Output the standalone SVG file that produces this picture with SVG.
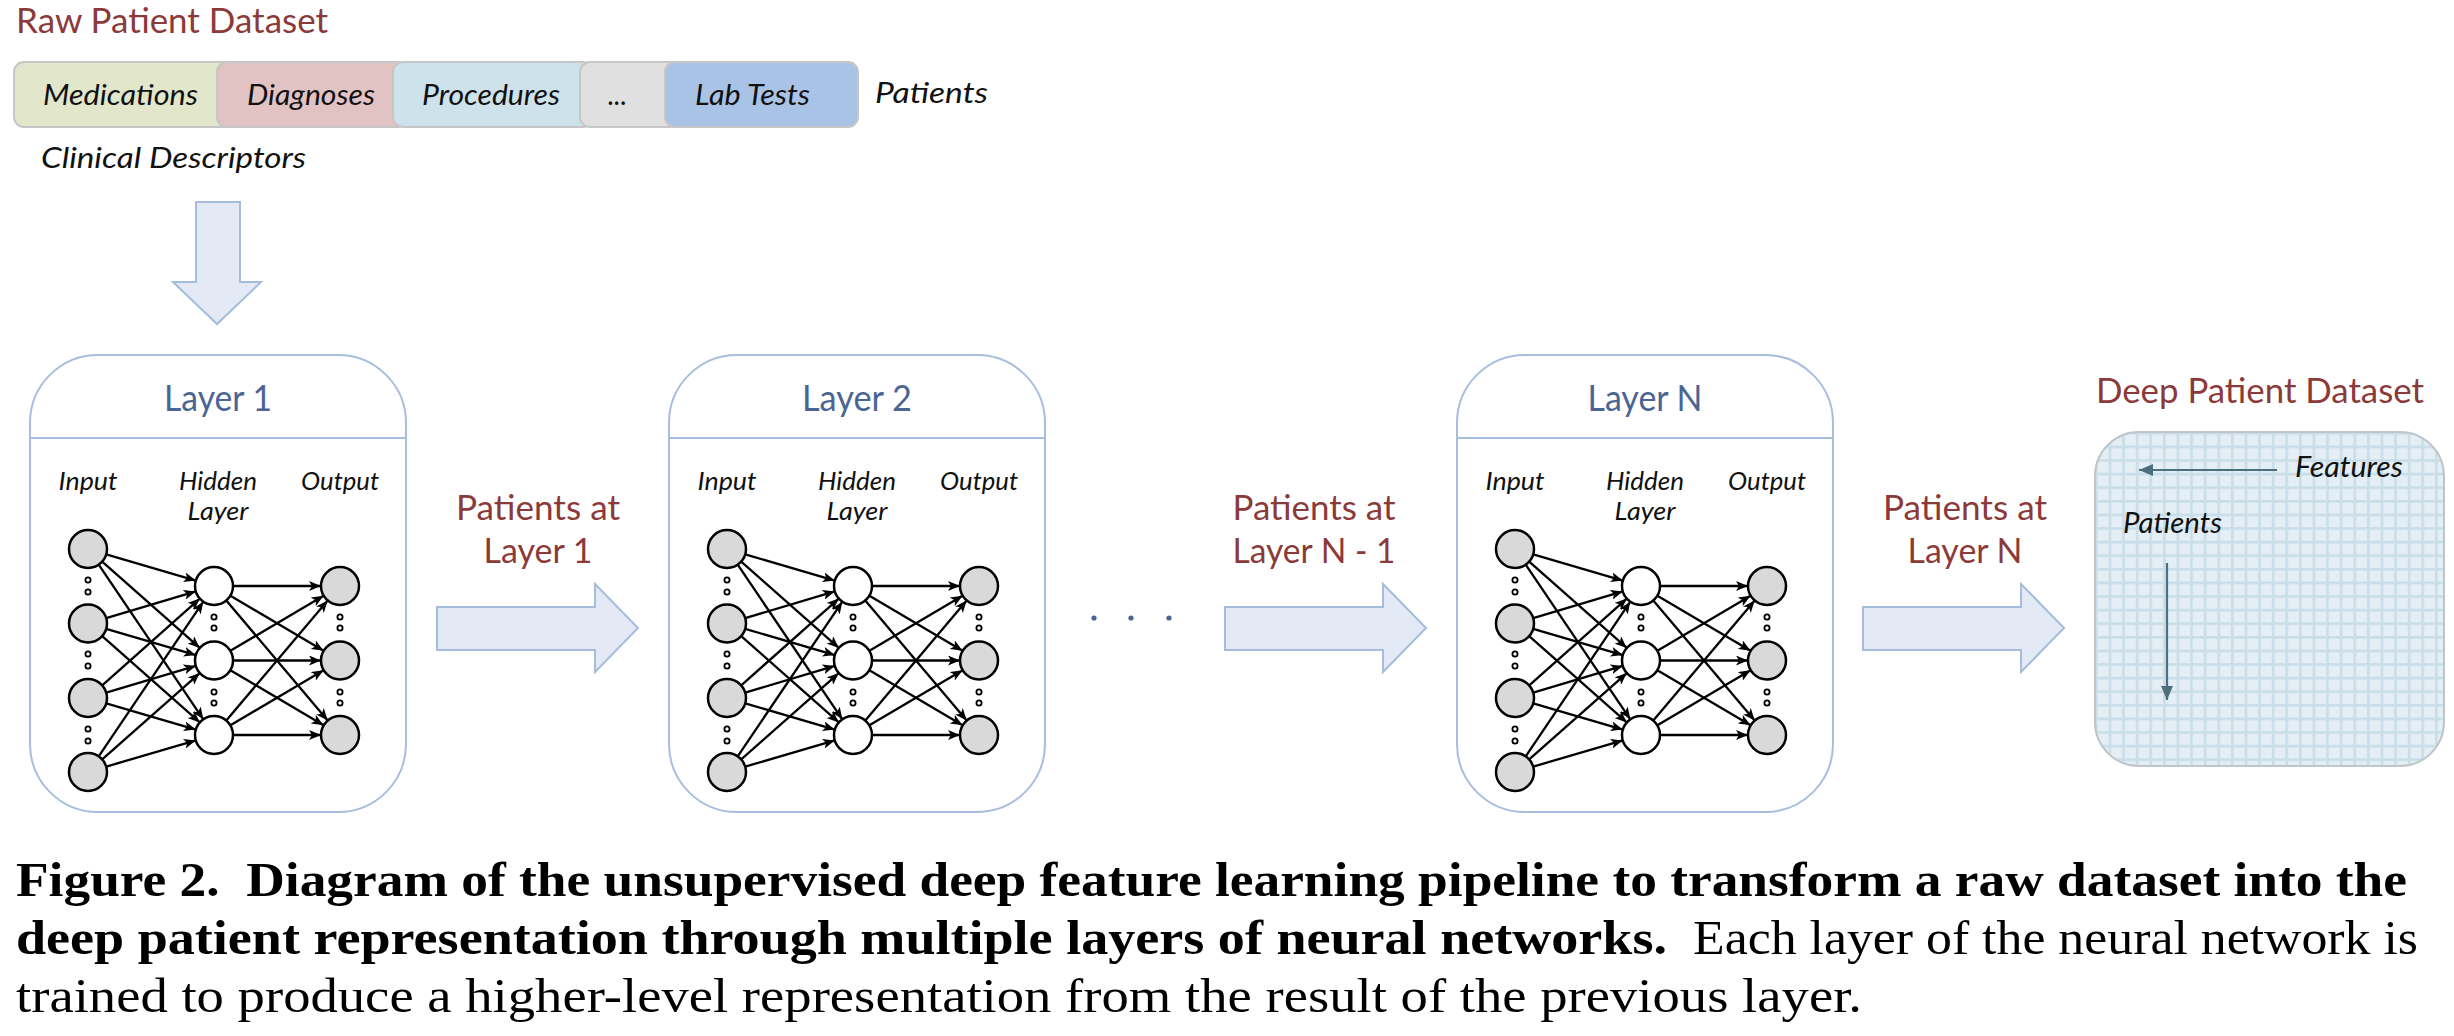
<svg xmlns="http://www.w3.org/2000/svg" width="2454" height="1036" viewBox="0 0 2454 1036">
<style>
.sans{font-family:Lato,"Liberation Sans",sans-serif}
.red{font-family:Lato,"Liberation Sans",sans-serif;fill:#8B3A3A;font-size:35px}
.ctr{text-anchor:middle}
.title{font-family:Lato,"Liberation Sans",sans-serif;fill:#4A6592;font-size:36px;text-anchor:middle}
.it{font-family:Lato,"Liberation Sans",sans-serif;font-style:italic;fill:#111;font-size:28px}
.lbl{font-family:Lato,"Liberation Sans",sans-serif;font-style:italic;fill:#111;font-size:26px;text-anchor:middle}
.box{fill:#fff;stroke:#A8BEDF;stroke-width:2}
.div{stroke:#A8BEDF;stroke-width:2}
.big{fill:#E3EAF5;stroke:#A5BCDD;stroke-width:2}
.e{stroke:#000;stroke-width:2.3;fill:none;marker-end:url(#ah)}
.ng{fill:#D9D9D9;stroke:#000;stroke-width:2.5}
.nw{fill:#fff;stroke:#000;stroke-width:2.5}
.d{fill:#fff;stroke:#000;stroke-width:1.8}
.seg{stroke:#C6C6C6;stroke-width:2}
.cap{font-family:"Liberation Serif",serif;font-size:48px;fill:#000;white-space:pre}
.ga{stroke:#4D6E7B;stroke-width:2.2;fill:none;marker-end:url(#gah)}
</style>
<defs>
<marker id="ah" markerUnits="userSpaceOnUse" markerWidth="13" markerHeight="10" refX="12" refY="5" orient="auto">
<path d="M0,0 L12,5 L0,10 L3,5 Z" fill="#000"/>
</marker>
<marker id="gah" markerUnits="userSpaceOnUse" markerWidth="15" markerHeight="12" refX="14" refY="6" orient="auto">
<path d="M0,0 L14,6 L0,12 Z" fill="#4D6E7B"/>
</marker>
<pattern id="grid" patternUnits="userSpaceOnUse" x="2095" y="432" width="13.6" height="13.6">
<rect width="13.6" height="13.6" fill="#C9DEE8"/>
<rect x="2.6" y="2.6" width="11" height="11" fill="#E4EEF5"/>
</pattern>
<g id="net">
<line class="e" x1="76.2" y1="554.4" x2="165.8" y2="580.6"/>
<line class="e" x1="72.2" y1="561.6" x2="169.8" y2="647.9"/>
<line class="e" x1="68.7" y1="564.7" x2="173.3" y2="719.3"/>
<line class="e" x1="76.2" y1="618.1" x2="165.8" y2="591.4"/>
<line class="e" x1="76.2" y1="628.9" x2="165.8" y2="655.1"/>
<line class="e" x1="72.2" y1="636.1" x2="169.8" y2="722.4"/>
<line class="e" x1="72.2" y1="685.4" x2="169.8" y2="598.6"/>
<line class="e" x1="76.2" y1="692.6" x2="165.8" y2="665.9"/>
<line class="e" x1="76.2" y1="703.4" x2="165.8" y2="729.6"/>
<line class="e" x1="68.7" y1="756.3" x2="173.3" y2="601.7"/>
<line class="e" x1="72.2" y1="759.4" x2="169.8" y2="673.1"/>
<line class="e" x1="76.2" y1="766.6" x2="165.8" y2="740.4"/>
<line class="e" x1="203" y1="586" x2="291" y2="586"/>
<line class="e" x1="200.4" y1="595.7" x2="293.6" y2="650.8"/>
<line class="e" x1="196.3" y1="600.5" x2="297.7" y2="720.5"/>
<line class="e" x1="200.4" y1="650.8" x2="293.6" y2="595.7"/>
<line class="e" x1="203" y1="660.5" x2="291" y2="660.5"/>
<line class="e" x1="200.4" y1="670.2" x2="293.6" y2="725.3"/>
<line class="e" x1="196.3" y1="720.5" x2="297.7" y2="600.5"/>
<line class="e" x1="200.4" y1="725.3" x2="293.6" y2="670.2"/>
<line class="e" x1="203" y1="735" x2="291" y2="735"/>
<circle class="ng" cx="58" cy="549" r="19"/>
<circle class="ng" cx="58" cy="623.5" r="19"/>
<circle class="ng" cx="58" cy="698" r="19"/>
<circle class="ng" cx="58" cy="772" r="19"/>
<circle class="nw" cx="184" cy="586" r="19"/>
<circle class="nw" cx="184" cy="660.5" r="19"/>
<circle class="nw" cx="184" cy="735" r="19"/>
<circle class="ng" cx="310" cy="586" r="19"/>
<circle class="ng" cx="310" cy="660.5" r="19"/>
<circle class="ng" cx="310" cy="735" r="19"/>
<circle class="d" cx="58" cy="580" r="2.6"/>
<circle class="d" cx="58" cy="592" r="2.6"/>
<circle class="d" cx="58" cy="654" r="2.6"/>
<circle class="d" cx="58" cy="666" r="2.6"/>
<circle class="d" cx="58" cy="729" r="2.6"/>
<circle class="d" cx="58" cy="741" r="2.6"/>
<circle class="d" cx="184" cy="617" r="2.6"/>
<circle class="d" cx="184" cy="628" r="2.6"/>
<circle class="d" cx="184" cy="692" r="2.6"/>
<circle class="d" cx="184" cy="703" r="2.6"/>
<circle class="d" cx="310" cy="617" r="2.6"/>
<circle class="d" cx="310" cy="628" r="2.6"/>
<circle class="d" cx="310" cy="692" r="2.6"/>
<circle class="d" cx="310" cy="703" r="2.6"/>
</g>
</defs>
<rect width="2454" height="1036" fill="#fff"/>

<g id="raw-dataset">
<text class="red" x="16" y="33" font-size="33" textLength="312" lengthAdjust="spacingAndGlyphs">Raw Patient Dataset</text>
<rect class="seg" x="14" y="62" width="225" height="65" rx="10" fill="#E2E7CC"/>
<rect class="seg" x="217" y="62" width="190" height="65" rx="10" fill="#E2C3C4"/>
<rect class="seg" x="393" y="62" width="200" height="65" rx="10" fill="#CDE2EA"/>
<rect class="seg" x="580" y="62" width="100" height="65" rx="10" fill="#E0E0E0"/>
<rect class="seg" x="665" y="62" width="193" height="65" rx="10" fill="#A9C3E6"/>
<text class="it" x="43" y="105" textLength="155" lengthAdjust="spacingAndGlyphs">Medications</text>
<text class="it" x="247" y="105" textLength="128" lengthAdjust="spacingAndGlyphs">Diagnoses</text>
<text class="it" x="422" y="105" textLength="138" lengthAdjust="spacingAndGlyphs">Procedures</text>
<text class="it" x="608" y="105" textLength="19" lengthAdjust="spacingAndGlyphs">...</text>
<text class="it" x="695" y="105" textLength="115" lengthAdjust="spacingAndGlyphs">Lab Tests</text>
<text class="it" x="875" y="103" textLength="113" lengthAdjust="spacingAndGlyphs">Patients</text>
<text class="it" x="41" y="168" textLength="265" lengthAdjust="spacingAndGlyphs">Clinical Descriptors</text>
</g>

<g id="layer1">
<rect class="box" x="30" y="355" width="376" height="457" rx="68"/>
<line class="div" x1="30" y1="438" x2="406" y2="438"/>
<text class="title" x="218" y="411" textLength="108" lengthAdjust="spacingAndGlyphs">Layer 1</text>
<text class="lbl" x="88" y="490" textLength="59" lengthAdjust="spacingAndGlyphs">Input</text>
<text class="lbl" x="218" y="490" textLength="78" lengthAdjust="spacingAndGlyphs">Hidden</text>
<text class="lbl" x="218" y="520" textLength="61" lengthAdjust="spacingAndGlyphs">Layer</text>
<text class="lbl" x="340" y="490" textLength="78" lengthAdjust="spacingAndGlyphs">Output</text>
<use href="#net" x="30"/>
</g>

<g id="layer2">
<rect class="box" x="669" y="355" width="376" height="457" rx="68"/>
<line class="div" x1="669" y1="438" x2="1045" y2="438"/>
<text class="title" x="857" y="411" textLength="110" lengthAdjust="spacingAndGlyphs">Layer 2</text>
<text class="lbl" x="727" y="490" textLength="59" lengthAdjust="spacingAndGlyphs">Input</text>
<text class="lbl" x="857" y="490" textLength="78" lengthAdjust="spacingAndGlyphs">Hidden</text>
<text class="lbl" x="857" y="520" textLength="61" lengthAdjust="spacingAndGlyphs">Layer</text>
<text class="lbl" x="979" y="490" textLength="78" lengthAdjust="spacingAndGlyphs">Output</text>
<use href="#net" x="669"/>
</g>

<g id="layerN">
<rect class="box" x="1457" y="355" width="376" height="457" rx="68"/>
<line class="div" x1="1457" y1="438" x2="1833" y2="438"/>
<text class="title" x="1645" y="411" textLength="115" lengthAdjust="spacingAndGlyphs">Layer N</text>
<text class="lbl" x="1515" y="490" textLength="59" lengthAdjust="spacingAndGlyphs">Input</text>
<text class="lbl" x="1645" y="490" textLength="78" lengthAdjust="spacingAndGlyphs">Hidden</text>
<text class="lbl" x="1645" y="520" textLength="61" lengthAdjust="spacingAndGlyphs">Layer</text>
<text class="lbl" x="1767" y="490" textLength="78" lengthAdjust="spacingAndGlyphs">Output</text>
<use href="#net" x="1457"/>
</g>

<g id="deep-dataset">
<text class="red" x="2096" y="403" font-size="33" textLength="328" lengthAdjust="spacingAndGlyphs">Deep Patient Dataset</text>
<rect x="2095" y="432" width="349" height="334" rx="44" fill="url(#grid)" stroke="#BFC6C9" stroke-width="2"/>
<line class="ga" x1="2277" y1="470" x2="2139" y2="470"/>
<text class="it" x="2295" y="477" textLength="108" lengthAdjust="spacingAndGlyphs">Features</text>
<text class="it" x="2123" y="533" textLength="99" lengthAdjust="spacingAndGlyphs">Patients</text>
<line class="ga" x1="2167" y1="563" x2="2167" y2="700"/>
</g>

<g id="connectors">
<path class="big" d="M196,202 H240 V282 H261 L217,324 L173,282 H196 Z"/>
<path class="big" d="M437,607 H595 V584 L638,628 L595,672 V650 H437 Z"/>
<path class="big" d="M1225,607 H1383 V584 L1426,628 L1383,672 V650 H1225 Z"/>
<path class="big" d="M1863,607 H2021 V584 L2064,628 L2021,672 V650 H1863 Z"/>
<text class="red ctr" x="538" y="520" textLength="164" lengthAdjust="spacingAndGlyphs">Patients at</text>
<text class="red ctr" x="538" y="563" textLength="109" lengthAdjust="spacingAndGlyphs">Layer 1</text>
<text class="red ctr" x="1314" y="520" textLength="163" lengthAdjust="spacingAndGlyphs">Patients at</text>
<text class="red ctr" x="1314" y="563" textLength="163" lengthAdjust="spacingAndGlyphs">Layer N - 1</text>
<text class="red ctr" x="1965" y="520" textLength="164" lengthAdjust="spacingAndGlyphs">Patients at</text>
<text class="red ctr" x="1965" y="563" textLength="115" lengthAdjust="spacingAndGlyphs">Layer N</text>
<circle cx="1094" cy="618" r="2.6" fill="#4A6592"/>
<circle cx="1131" cy="618" r="2.6" fill="#4A6592"/>
<circle cx="1169" cy="618" r="2.6" fill="#4A6592"/>
</g>

<g id="caption">
<text class="cap" x="16" y="896" font-weight="bold" textLength="2391" lengthAdjust="spacingAndGlyphs">Figure 2.  Diagram of the unsupervised deep feature learning pipeline to transform a raw dataset into the</text>
<text class="cap" x="16" y="954" font-weight="bold" textLength="1651" lengthAdjust="spacingAndGlyphs">deep patient representation through multiple layers of neural networks.</text>
<text class="cap" x="1693" y="954" textLength="725" lengthAdjust="spacingAndGlyphs">Each layer of the neural network is</text>
<text class="cap" x="16" y="1012" textLength="1846" lengthAdjust="spacingAndGlyphs">trained to produce a higher-level representation from the result of the previous layer.</text>
</g>
</svg>
